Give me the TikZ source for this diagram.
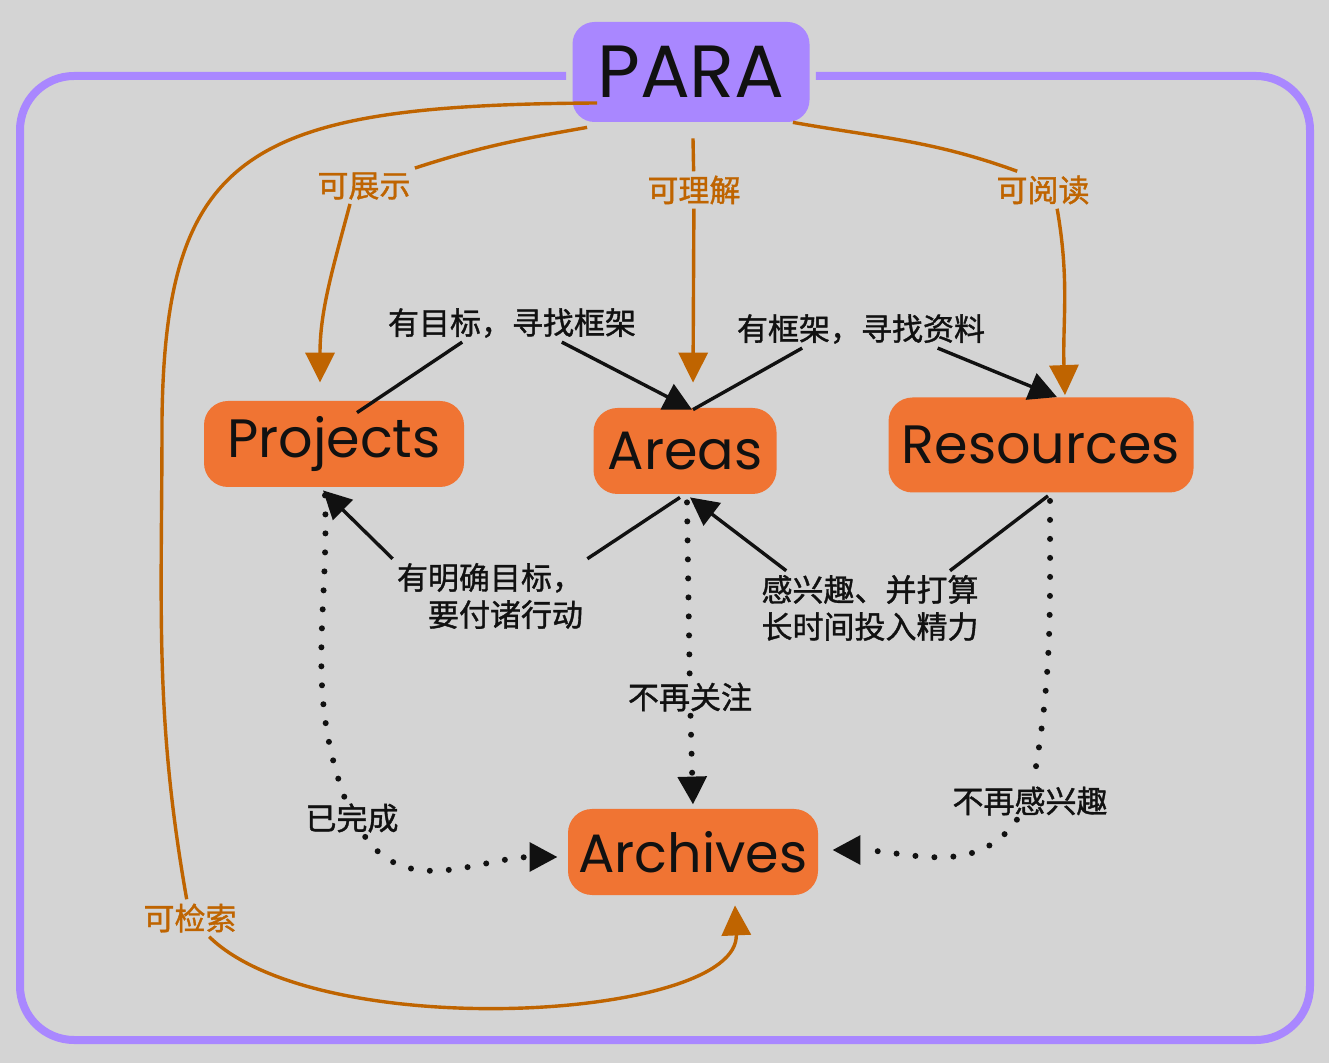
\documentclass[tikz,border=0pt]{standalone}
\usepackage{fontspec}
\setmainfont{Noto Sans CJK SC}[FakeBold=1.2]
\newfontfamily\boxfont{Poppins}
\usetikzlibrary{arrows.meta,calc}
\definecolor{bg}{HTML}{D4D4D4}
\definecolor{lilac}{HTML}{A987FF}
\definecolor{carrot}{HTML}{F07433}
\definecolor{rust}{HTML}{BF6400}
\definecolor{ink}{HTML}{111111}
\begin{document}
\begin{tikzpicture}[x=0.5pt,y=-0.5pt,
    hub/.style={fill=lilac,rounded corners=11pt,text=ink,inner sep=0pt,
      minimum width=118.5pt,minimum height=50pt,font=\boxfont\fontsize{37}{40}\selectfont},
    box/.style={fill=carrot,rounded corners=12pt,text=ink,inner sep=0pt,
      minimum height=43pt,font=\boxfont\fontsize{27}{32}\selectfont},
    lbl/.style={fill=bg,text=ink,inner sep=2pt,font=\fontsize{15.5}{18.5}\selectfont},
    olbl/.style={lbl,text=rust},
    frame/.style={draw=lilac,line width=4pt,rounded corners=27pt},
    link/.style={draw=ink,line width=1.7pt},
    linkto/.style={link,-{Triangle[length=14pt,width=14pt]}},
    olink/.style={draw=rust,line width=1.7pt},
    olinkto/.style={olink,-{Triangle[length=15pt,width=14.5pt]}},
    dots/.style={draw=ink,line width=3pt,line cap=round,dash pattern=on 0pt off 9.5pt},
    dotsto/.style={dots,-{Triangle[length=14pt,width=14pt]}}]
  \fill[bg] (0,0) rectangle (1329,1063);
  \useasboundingbox (0,0) rectangle (1329,1063);

  % boxes
  \node[hub] (para) at (691,72) {PARA};
  \node[box,minimum width=130pt] (proj) at (334,444) {Projects};
  \node[box,minimum width=91.5pt] (areas) at (685,451) {Areas};
  \node[box,minimum width=152.5pt,minimum height=47.5pt] (res) at (1041,445) {Resources};
  \node[box,minimum width=125pt] (arch) at (693,852) {Archives};

  \draw[frame] ($(para.west)+(-6,4)$) -- (20,76) -- (20,1040) -- (1310,1040)
    -- (1310,76) -- ($(para.east)+(6,4)$);

  % labels
  \node[olbl] (show) at (364,186) {可展示};
  \node[olbl] (grasp) at (694,190) {可理解};
  \node[olbl] (read) at (1043,190) {可阅读};
  \node[olbl] (find) at (190,918) {可检索};
  \node[lbl] (goal) at (512,323) {有目标，寻找框架};
  \node[lbl] (frm) at (861,329) {有框架，寻找资料};
  \node[lbl,align=right] (act) at (490,596) {有明确目标，\\要付诸行动};
  \node[lbl,align=left] (keen) at (870,608) {感兴趣、并打算\\长时间投入精力};
  \node[lbl] (drop) at (690,697) {不再关注};
  \node[lbl] (done) at (352,818) {已完成};
  \node[lbl] (bored) at (1030,801) {不再感兴趣};

  % PARA links
  \draw[olink] ($(para.south west)+(15,5)$) to[out=190,in=18] (show.north east);
  \draw[olinkto] ($(show.south)+(-14,0)$) to[out=-105,in=90] ($(proj.north)+(-14,-18)$);
  \draw[olink] ($(para.south)+(2,16)$) -- (grasp);
  \draw[olinkto] (grasp) -- ($(areas.north)+(8,-25)$);
  \draw[olink] ($(para.south east)+(-17,0)$) to[out=-10,in=160] (read.144);
  \draw[olinkto] (read.-53) to[out=-80,in=92] ($(res.north)+(24,-2)$);
  \coordinate (lft) at (162,420);
  \draw[olink] ($(para.west)+(25,31)$) .. controls (250,105) and (165,150) .. (lft)
    to[out=-90,in=100] (find);
  \draw[olinkto] (find) .. controls (320,1045) and (740,1020) .. ($(arch.south)+(42,10)$);

  % solid links
  \draw[link] ($(proj.north)+(23,12)$) -- (goal.201);
  \draw[linkto] (goal.339) -- ($(areas.north)+(7,2)$);
  \draw[link] ($(areas.north)+(8,2)$) -- (frm.198);
  \draw[linkto] (frm.346) -- ($(res.north)+(16,0)$);
  \draw[link] ($(areas.south)+(-5,3)$) -- (act.north east);
  \draw[linkto] (act.north west) -- ($(proj.south)+(-11,3)$);
  \draw[link] ($(res.south)+(7,3)$) -- (keen.25);
  \draw[linkto] (keen.156) -- ($(areas.south)+(5,3)$);

  % dotted links
  \draw[dots] ($(proj.south)+(-9,8)$) to[out=-88,in=110] (done);
  \draw[dotsto] (done) to[out=-55,in=180] ($(arch.west)+(-10,5)$);
  \draw[dots] ($(areas.south)+(2,8)$) -- (drop);
  \draw[dotsto] (drop) -- ($(arch.north)+(0,-4)$);
  \draw[dots] ($(res.south)+(9,8)$) to[out=-90,in=80] (bored);
  \draw[dotsto] (bored) to[out=-125,in=0] ($(arch.east)+(14,-2)$);
\end{tikzpicture}
\end{document}
